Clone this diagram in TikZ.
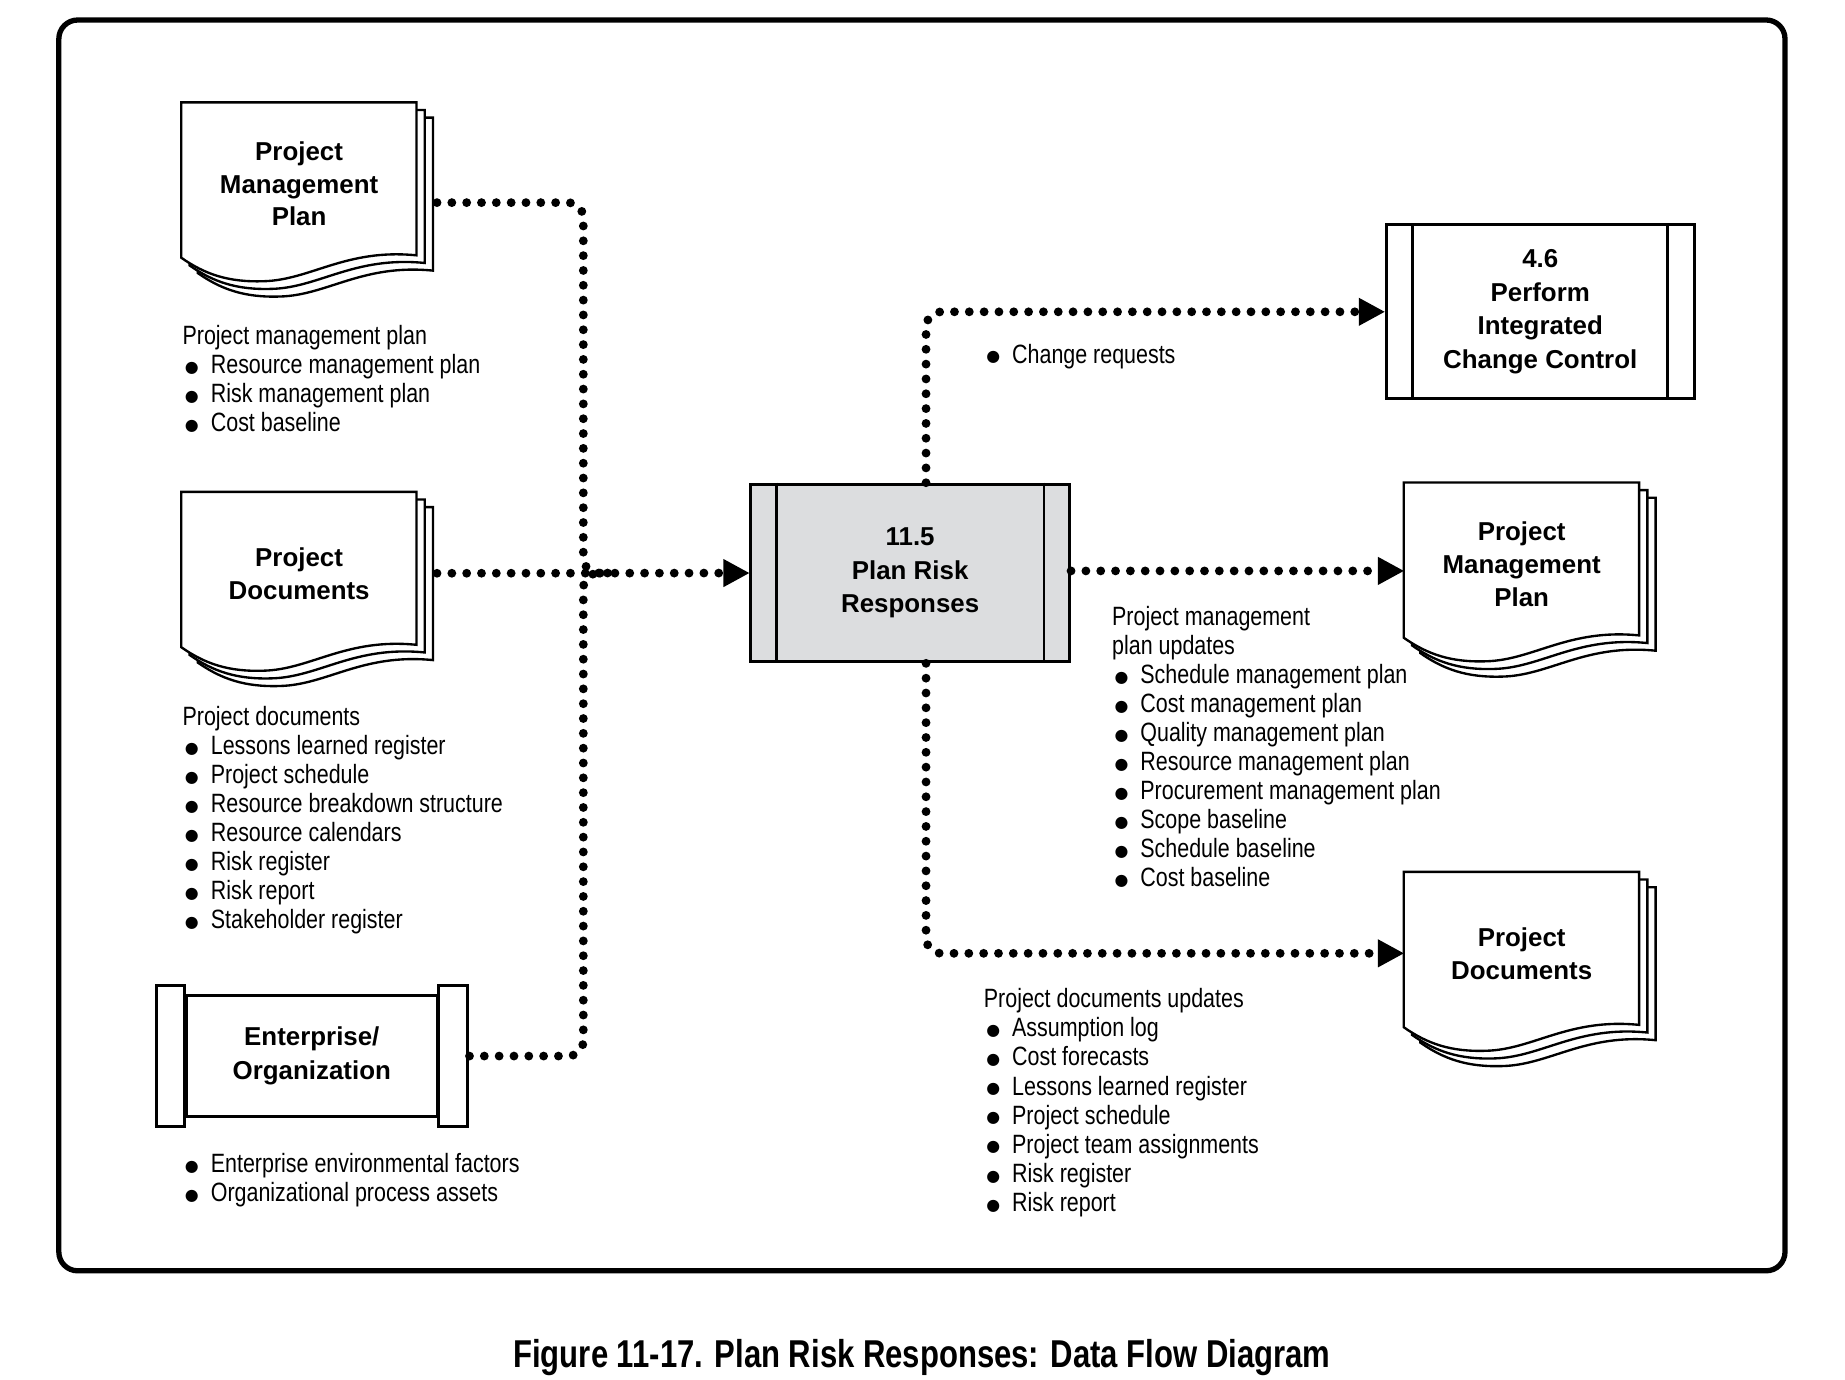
\documentclass[tikz,border=0pt]{standalone}
\usepackage{fontspec}
\setmainfont{Liberation Sans}
\newfontfamily\listfont[FakeStretch=0.81]{Liberation Sans}
\newfontfamily\capfont[FakeStretch=0.80]{Liberation Sans}
\newfontfamily\symfont{DejaVu Sans}
\usetikzlibrary{arrows.meta}
\definecolor{procgray}{HTML}{DCDDDF}
\newcommand\bi{\hspace*{2pt}\makebox[22pt][l]{\raisebox{1pt}{\symfont\fontsize{13.5}{13.5}\selectfont ●}}}
\newcommand\docstack[2]{%
  \foreach \dx/\dy in {14/13,7/6.5,0/0}{%
    \begin{scope}[shift={({#1+\dx},{#2+\dy})}]
      \filldraw[sheet] (0,0) -- (200,0) -- (200,130) .. controls (140,124) and (110,151) .. (70,152) .. controls (40,153) and (20,146) .. (0,132) -- cycle;
    \end{scope}}}
\begin{document}
\begin{tikzpicture}[x=1pt,y=-1pt,
  sheet/.style={draw, fill=white, line width=2pt, line join=miter},
  flow/.style={line width=7.5pt, line cap=round, dash pattern=on 0pt off 12.6pt, rounded corners=13pt},
  flowarrow/.style={flow, -{Triangle[length=22pt,width=24pt,line width=0pt]}},
  boxline/.style={line width=2.5pt},
  proc/.style={draw, boxline, inner sep=0pt, align=center, font=\bfseries\fontsize{22}{28.5}\selectfont},
  docnode/.style={minimum width=200pt, minimum height=138pt, inner sep=0pt, anchor=north west, align=center, font=\bfseries\fontsize{22}{28}\selectfont},
  listtext/.style={anchor=north west, inner sep=0pt, align=left, font=\listfont\fontsize{22.5}{24.7}\selectfont}]
\useasboundingbox (0,0) rectangle (1568,1172);
\fill[white] (0,0) rectangle (1568,1172);
\draw[line width=4.5pt, rounded corners=16pt] (50,17) rectangle (1517,1080);

% documents
\docstack{154}{87}
\node[docnode] (pmpL) at (154,87) {Project\\Management\\Plan};
\docstack{154}{418}
\node[docnode] (pdL) at (154,418) {Project\\Documents};
\docstack{1193}{410}
\node[docnode] (pmpR) at (1193,410) {Project\\Management\\Plan};
\docstack{1193}{741}
\node[docnode] (pdR) at (1193,741) {Project\\Documents};

% enterprise
\node[proc, minimum width=213.5pt, minimum height=103pt] (ent) at (265,897.5) {Enterprise/\\Organization};
\draw[boxline] ([shift={(-24,-7)}]ent.north west) rectangle ([shift={(0,7)}]ent.south west);
\draw[boxline] ([shift={(0,-7)}]ent.north east) rectangle ([shift={(24.5,7)}]ent.south east);

% processes
\node[proc, fill=procgray, minimum width=271pt, minimum height=151pt] (pr) at (773.5,487) {11.5\\Plan Risk\\Responses};
\draw[boxline] ([xshift=23pt]pr.north west) -- ([xshift=23pt]pr.south west);
\draw[boxline] ([xshift=-23pt]pr.north east) -- ([xshift=-23pt]pr.south east);
\node[proc, minimum width=262pt, minimum height=148pt] (pic) at (1309,265) {4.6\\Perform\\Integrated\\Change Control};
\draw[boxline] ([xshift=24pt]pic.north west) -- ([xshift=24pt]pic.south west);
\draw[boxline] ([xshift=-24pt]pic.north east) -- ([xshift=-24pt]pic.south east);

% connectors
\draw[flow] ([shift={(17,16)}]pmpL.east) -| ([xshift=-141pt]pr.west) -- ([xshift=-116pt]pr.west);
\draw[flow] ([xshift=26pt]ent.east) -| ([xshift=-141pt]pr.west) -- ([xshift=-116pt]pr.west);
\draw[flowarrow] ([xshift=17pt]pdL.east) -- (pr.west);
\draw[flowarrow] ([xshift=13.5pt]pr.north) |- (pic.west);
\coordinate (pmpRin) at ([yshift=-6pt]pmpR.west);
\draw[flowarrow] (pr.east |- pmpRin) -- (pmpRin);
\draw[flowarrow] ([xshift=13.5pt]pr.south) |- (pdR.west);

% lists
\node[listtext] (l1) at (155,276) {Project management plan\\\bi Resource management plan\\\bi Risk management plan\\\bi Cost baseline};
\node[listtext] (l2) at (155,600) {Project documents\\\bi Lessons learned register\\\bi Project schedule\\\bi Resource breakdown structure\\\bi Resource calendars\\\bi Risk register\\\bi Risk report\\\bi Stakeholder register};
\node[listtext] (l3) at (155,980) {\bi Enterprise environmental factors\\\bi Organizational process assets};
\node[listtext] (r0) at (836,292) {\bi Change requests};
\node[listtext] (r1) at (945,515) {Project management\\plan updates\\\bi Schedule management plan\\\bi Cost management plan\\\bi Quality management plan\\\bi Resource management plan\\\bi Procurement management plan\\\bi Scope baseline\\\bi Schedule baseline\\\bi Cost baseline};
\node[listtext] (r2) at (836,840) {Project documents updates\\\bi Assumption log\\\bi Cost forecasts\\\bi Lessons learned register\\\bi Project schedule\\\bi Project team assignments\\\bi Risk register\\\bi Risk report};

% caption
\node[font=\capfont\bfseries\fontsize{33}{36}\selectfont] (cap) at (783.5,1154) {Figure 11-17. Plan Risk Responses: Data Flow Diagram};
\end{tikzpicture}
\end{document}
